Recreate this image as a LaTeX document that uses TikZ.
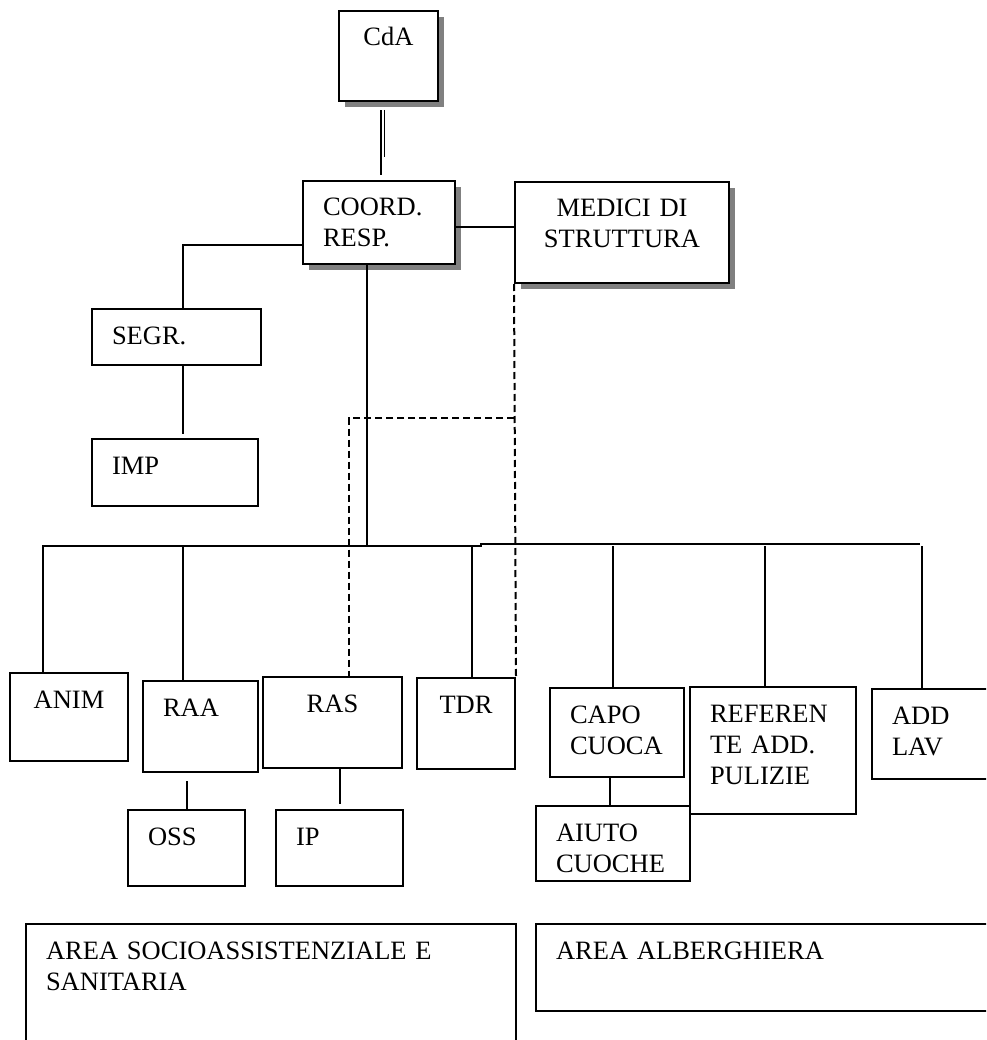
\documentclass[tikz,border=0pt]{standalone}
\usepackage{fontspec}
\setmainfont{Liberation Serif}
\usetikzlibrary{positioning, shadows}

\begin{document}
\begin{tikzpicture}[
		x=1pt, y=-1pt,
		box/.style = {rectangle, draw, fill=white, line width=2pt, anchor=north west, align=left, inner xsep=20pt, inner ysep=0pt, text height=35pt, font=\fontsize{26.5}{31}\selectfont},
		shadowbox/.style = {box, drop shadow={shadow xshift=6pt, shadow yshift=-6pt, fill=black!50, opacity=1}},
		conn/.style = {line width=2pt},
		medline/.style = {line width=2pt, dash pattern=on 7pt off 4pt},
		dblline/.style = {line width=1.3pt, double, double distance=2pt},
	]
	\useasboundingbox (0,0) rectangle (986,1040);
	\clip (0,0) rectangle (986,1040);

	\node[shadowbox, align=center, text width=59pt, text depth=55pt] (cda) at (338,10) {CdA};
	\node[shadowbox, text width=112pt, text depth=48pt] (coord) at (302,180) {COORD.\\RESP.};
	\node[shadowbox, align=center, text width=174pt, text depth=66pt] (medici) at (514,181) {MEDICI DI\\STRUTTURA};
	\node[box, text width=129pt, text depth=21pt] (segr) at (91,308) {SEGR.};
	\node[box, text width=126pt, text depth=32pt] (imp) at (91,438) {IMP};

	\node[box, align=center, text width=78pt, text depth=53pt] (anim) at (9,672) {ANIM};
	\node[box, text width=75pt, text depth=56pt] (raa) at (142,680) {RAA};
	\node[box, align=center, text width=99pt, text depth=56pt] (ras) at (262,676) {RAS};
	\node[box, align=center, text width=58pt, text depth=56pt] (tdr) at (416,677) {TDR};
	\node[box, text width=94pt, text depth=54pt] (capo) at (549,687) {CAPO\\CUOCA};
	\node[box, text width=126pt, text depth=92pt] (refer) at (689,686) {REFEREN\\TE ADD.\\PULIZIE};
	\node[box, text width=90pt, text depth=55pt] (addlav) at (871,688) {ADD\\LAV};

	\node[box, text width=77pt, text depth=41pt] (oss) at (127,809) {OSS};
	\node[box, text width=87pt, text depth=41pt] (ip) at (275,809) {IP};
	\node[box, text width=114pt, text depth=40pt] (aiuto) at (535,805) {AIUTO\\CUOCHE};

	\node[box, text width=450pt, text depth=95pt] (areasoc) at (25,923) {AREA SOCIOASSISTENZIALE E\\SANITARIA};
	\node[box, text width=430pt, text depth=52pt] (areaalb) at (535,923) {AREA ALBERGHIERA};

	% top of the chart
	\draw[dblline] ([xshift=-6pt,yshift=-8pt]cda.south) -- ++(0,47) coordinate (dblend);
	\draw[conn] ([xshift=-2pt]dblend) -- ++(0,18);
	\draw[conn] ([yshift=-5pt]coord.east) -- ([yshift=-5pt]coord.east -| medici.west);
	\draw[conn] ([yshift=-23pt]coord.west) -| ([xshift=6.5pt]segr.north);
	\draw[conn] ([xshift=6.5pt]segr.south) -- ([xshift=8pt,yshift=4pt]imp.north);

	% bus
	\coordinate (busL) at (42,546);
	\coordinate (busR) at (920,544);
	\draw[conn] (busL) -- (481,546) |- (busR);
	\draw[conn] ([xshift=-12pt]coord.south) -- ([xshift=-12pt]coord.south |- busL);
	\foreach \n/\dx in {anim/-26, raa/-17.5, tdr/6, capo/-4, refer/-8, addlav/-15}
		\draw[conn] ([xshift=\dx]\n.north) -- ([xshift=\dx]\n.north |- busL);

	% medici
	\coordinate (dj) at ([yshift=-134pt]medici.south west);
	\draw[medline] (medici.south west) -- (tdr.north east);
	\draw[medline] (dj) -| ([xshift=16pt]ras.north);

	% second level
	\draw[conn] (oss.north) -- ([yshift=-8pt]oss.north |- raa.south);
	\draw[conn] (ip.north |- ras.south) -- ([yshift=5pt]ip.north);
	\draw[conn] ([xshift=-3pt]aiuto.north) -- ([xshift=-3pt]aiuto.north |- capo.south);

\end{tikzpicture}
\end{document}
